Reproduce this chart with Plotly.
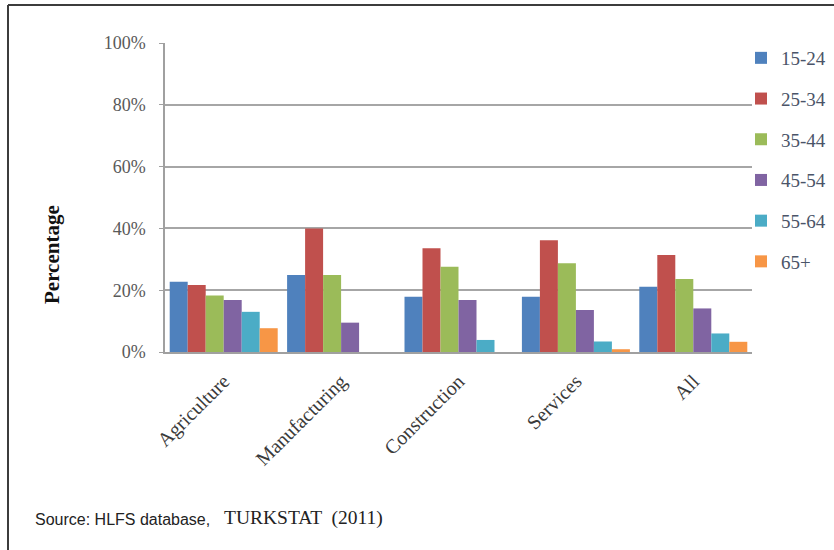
import plotly.graph_objects as go

# Employment share by age group within each sector
sectors = ["Agriculture", "Manufacturing", "Construction", "Services", "All"]
age_groups = ["15-24", "25-34", "35-44", "45-54", "55-64", "65+"]

share_15_24 = [0.227, 0.249, 0.179, 0.179, 0.211]
share_25_34 = [0.217, 0.400, 0.336, 0.362, 0.314]
share_35_44 = [0.183, 0.249, 0.276, 0.287, 0.236]
share_45_54 = [0.168, 0.095, 0.168, 0.136, 0.141]
share_55_64 = [0.130, 0.0, 0.039, 0.034, 0.060]
share_65_plus = [0.077, 0.0, 0.0, 0.009, 0.033]

series = [share_15_24, share_25_34, share_35_44, share_45_54, share_55_64, share_65_plus]
colors = ["#4F81BD", "#C0504D", "#9BBB59", "#8064A2", "#4BACC6", "#F79646"]

W, H = 834, 550
L, R, T, B = 165, 82, 43, 198
pw, ph = W - L - R, H - T - B


def px_x(px):
    return (px - L) / pw


def px_y(py):
    return (H - B - py) / ph


fig = go.Figure()
for name, vals, col in zip(age_groups, series, colors):
    fig.add_trace(go.Bar(
        x=sectors, y=vals, name=name, marker_color=col,
        marker_line_width=0, legendgroup=name,
    ))

serif = "Liberation Serif"

fig.update_layout(
    width=W, height=H,
    margin=dict(l=L, r=R, t=T, b=B, autoexpand=False),
    paper_bgcolor="white", plot_bgcolor="white",
    barmode="group", bargap=0.08, bargroupgap=0,
    font=dict(family=serif, size=18, color="#595959"),
    legend=dict(
        x=px_x(741), y=px_y(39), xanchor="left", yanchor="top",
        font=dict(family=serif, size=19, color="#4a5468"),
        tracegroupgap=13, bgcolor="rgba(0,0,0,0)",
        itemwidth=30,
    ),
    xaxis=dict(
        tickangle=-45, showgrid=False, showline=True,
        linecolor="#a0a0a0", linewidth=1.5,
        tickfont=dict(family=serif, size=20, color="#3a3a3a"),
        ticks="", ticklabelstandoff=8, fixedrange=True,
    ),
    yaxis=dict(
        range=[0, 1], dtick=0.2, tickformat=".0%",
        showgrid=True, gridcolor="#a6a6a6", gridwidth=1.5,
        showline=True, linecolor="#a0a0a0", linewidth=1.5,
        ticks="outside", ticklen=4, tickcolor="#a0a0a0",
        ticklabelstandoff=10,
        tickfont=dict(family=serif, size=18, color="#595959"),
        zeroline=False, fixedrange=True,
    ),
    showlegend=True,
)

# Vertical axis title
fig.add_annotation(
    text="<b>Percentage</b>", xref="paper", yref="paper",
    x=px_x(52), y=px_y(255), xanchor="center", yanchor="middle",
    textangle=-90, showarrow=False,
    font=dict(family=serif, size=21, color="#111111"),
)

# Source line
fig.add_annotation(
    text="Source: HLFS database,", xref="paper", yref="paper",
    x=px_x(33), y=px_y(519), xanchor="left", yanchor="middle", showarrow=False,
    font=dict(family="Liberation Sans", size=16, color="#222222"),
)
fig.add_annotation(
    text="TURKSTAT  (2011)", xref="paper", yref="paper",
    x=px_x(222), y=px_y(518), xanchor="left", yanchor="middle", showarrow=False,
    font=dict(family=serif, size=19.5, color="#222222"),
)

# Frame lines on the top and left edges
fig.add_shape(type="line", xref="paper", yref="paper",
              x0=px_x(8), x1=px_x(834), y0=px_y(5), y1=px_y(5),
              line=dict(color="#3c3c3c", width=2))
fig.add_shape(type="line", xref="paper", yref="paper",
              x0=px_x(8), x1=px_x(8), y0=px_y(5), y1=px_y(550),
              line=dict(color="#3c3c3c", width=2))

fig.write_html("out.html")
